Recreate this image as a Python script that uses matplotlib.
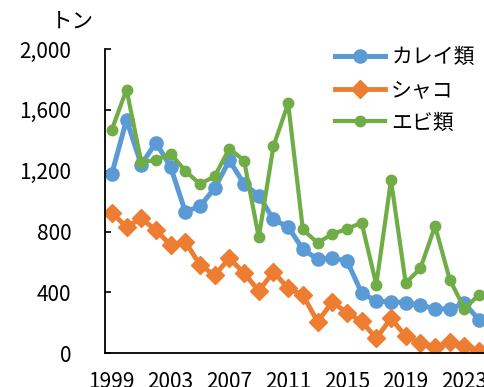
import matplotlib
matplotlib.use("Agg")
import matplotlib.pyplot as plt
import numpy as np

plt.rcParams['font.family'] = ['Noto Sans CJK JP', 'DejaVu Sans']

years = list(range(1999, 2025))
karei = [1180, 1535, 1240, 1385, 1225, 930, 967, 1085, 1268, 1113,
         1037, 880, 830, 685, 618, 625, 608, 398, 342, 339,
         333, 317, 292, 292, 328, 219]
shako = [923, 831, 886, 810, 711, 733, 580, 514, 624, 527,
         410, 536, 427, 383, 208, 336, 268, 210, 98, 230,
         112, 70, 40, 75, 50, 18]
ebi = [1470, 1733, 1258, 1269, 1313, 1199, 1112, 1164, 1346, 1267,
       762, 1361, 1643, 814, 726, 783, 818, 858, 451, 1138,
       462, 558, 836, 484, 294, 386]
series_names = ['カレイ類', 'シャコ', 'エビ類']
y_ticks = [0, 400, 800, 1200, 1600, 2000]
y_unit = 'トン'

W, H = 484, 387
fig = plt.figure(figsize=(W / 100, H / 100), dpi=100)
left, right, top, bottom = 104.5, 486.5, 49, 353.3
ax = fig.add_axes([left / W, 1 - bottom / H, (right - left) / W, (bottom - top) / H])

x = np.arange(len(years))
ax.plot(x, karei, color='#5B9BD5', lw=3.6, marker='o', ms=9.5,
        label=series_names[0], solid_joinstyle='round')
ax.plot(x, shako, color='#ED7D31', lw=3.5, marker='D', ms=8.8,
        label=series_names[1], solid_joinstyle='round')
ax.plot(x, ebi, color='#70AD47', lw=3.0, marker='o', ms=7.5,
        label=series_names[2], solid_joinstyle='round')

ax.set_xlim(-0.5, len(years) - 0.5)
ax.set_ylim(0, 2000)
ax.set_yticks(y_ticks)
ax.set_yticklabels([f'{v:,}' for v in y_ticks])
ax.set_xticks(x[::4])
ax.set_xticklabels([str(years[i]) for i in x[::4]])

for side in ('top', 'right'):
    ax.spines[side].set_visible(False)
for side in ('left', 'bottom'):
    ax.spines[side].set_linewidth(1.3)
    ax.spines[side].set_color('black')

ax.tick_params(axis='y', direction='in', length=4, width=1.2, pad=24, labelsize=15)
ax.tick_params(axis='x', length=0, pad=13, labelsize=15)

fig.text(72 / W, 1 - 22 / H, y_unit, fontsize=15.5, ha='center', va='center')

leg = ax.legend(loc='upper left', bbox_to_anchor=(335 / W, 1 - 46 / H),
                bbox_transform=fig.transFigure, frameon=False, fontsize=15,
                handlelength=2.4, handletextpad=0.3, labelspacing=0.52,
                borderpad=0, borderaxespad=0)

fig.savefig('out.png', dpi=100)
